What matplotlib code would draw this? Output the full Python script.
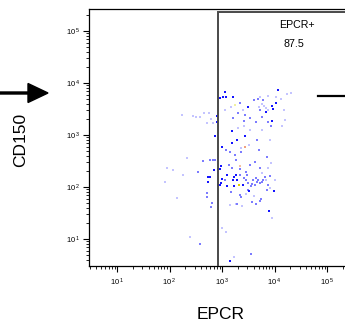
import math
import matplotlib
matplotlib.use("Agg")
from matplotlib import pyplot as plt
from matplotlib.patches import Rectangle, FancyArrow
from matplotlib.lines import Line2D
from matplotlib.ticker import LogLocator, FuncFormatter, NullFormatter

plt.rcParams['font.family'] = ['Liberation Sans', 'DejaVu Sans']
plt.rcParams['mathtext.fontset'] = 'custom'
plt.rcParams['mathtext.rm'] = 'Liberation Sans'

# events (EPCR, CD150), grouped by dot colour
dark_epcr = [11670, 1140, 916, 1045, 1191, 1620, 803, 803, 736, 1000, 1550, 1550, 1932,
             3127, 6887, 10690, 8955, 9355, 8955, 2742, 957, 916, 705, 541, 590, 541,
             1245, 1000, 957, 840, 916, 1245, 1849, 1694, 1620, 1932, 1694, 2512, 3266,
             9774, 7853, 1420]
dark_cd150 = [7330, 6710, 5150, 5380, 5380, 5380, 2320, 1780, 957, 588, 1190, 702, 802,
              3450, 2770, 4120, 3610, 3160, 1860, 957, 253, 222, 212, 156, 156, 125,
              170, 143, 119, 109, 109, 104, 170, 156, 136, 136, 104, 109, 83.8,
              83.8, 34.5, 3.8]

mid_epcr = [2203, 4853, 4070, 6040, 8571, 518, 518, 349, 381, 2203, 2993, 2865, 3127,
            3725, 3895, 4446, 4853, 5297, 5781, 6040, 6592, 4645, 4255, 3565, 2203, 2302,
            1932, 5534, 5297, 3725, 4446, 435, 590, 674, 736, 645, 617, 3565, 1620, 2018,
            2742, 3412, 4446, 5781, 1191, 1420, 1770, 2302, 5070, 7195, 1849, 1360, 3412,
            4255, 5297, 2203, 1550, 2865, 1140, 2625, 3127, 7195, 7517, 8204, 1483, 2625,
            5297, 7517, 4645]
mid_cd150 = [4120, 4920, 4710, 4710, 1490, 76.7, 64.3, 194, 8.0, 170, 170, 136, 119,
             114, 136, 149, 136, 119, 125, 136, 156, 125, 109, 104, 70.2, 64.3,
             47.1, 58.8, 53.8, 51.5, 47.1, 316, 330, 330, 330, 49.2, 41.2, 5.2, 2120, 2650,
             2430, 2120, 1780, 2220, 515, 471, 412, 471, 515, 378, 330, 265, 265,
             303, 232, 222, 232, 194, 136, 149, 87.5, 87.5, 109, 163, 80.2, 1860,
             3030, 1780, 802]

light_epcr = [20610, 17300, 7517, 10690, 5297, 5781, 6310, 6887, 7517, 5070, 281, 320, 381,
              454, 565, 518, 617, 674, 173, 215, 117, 82.1, 139, 89.6, 246, 1000, 1191,
              8955, 1849, 2405, 5781, 6887, 8204, 10230, 8571, 7517, 2865, 4070, 13300,
              15170, 2625, 3412, 13900, 15850, 1140, 1483, 2512, 2018, 3266, 1420, 181,
              1694, 2302, 8204, 5781]
light_cd150 = [6430, 6140, 5620, 5380, 5380, 3950, 3610, 3300, 3030, 3450, 2320, 2220, 2220,
               2650, 2650, 1700, 2030, 1700, 2430, 361, 212, 125, 61.4, 232, 10.9, 16.3, 13.6,
               25.3, 47.1, 43.1, 186, 136, 95.7, 136, 290, 232, 73.3, 67.1, 4920,
               3030, 1490, 1250, 1490, 1940, 3030, 3450, 3030, 1360, 643, 45.1, 170,
               4.5, 562, 802, 1250]

warm_epcr = [2742, 2109, 2203, 1770]
warm_cd150 = [588, 109, 253, 3780]
warm_colors = ['#f0a080', '#e0d000', '#f5c0a0', '#f0f0a0']

gate_x = 840
gate_top = 232000
gate_name = 'EPCR+'
gate_pct = '87.5'
decades = [10, 100, 1000, 10000, 100000]

fig = plt.figure(figsize=(3.45, 3.29), dpi=100)
ax = fig.add_axes([89 / 345, 63 / 329, 258 / 345, 257 / 329])

ax.scatter(light_epcr, light_cd150, s=1.1, marker='s', c='#c4c4ff', linewidths=0)
ax.scatter(mid_epcr, mid_cd150, s=1.1, marker='s', c='#7c7cff', linewidths=0)
ax.scatter(dark_epcr, dark_cd150, s=1.1, marker='s', c='#1414ff', linewidths=0)
ax.scatter(warm_epcr, warm_cd150, s=1.1, marker='s', c=warm_colors, linewidths=0)

ax.set_xscale('log')
ax.set_yscale('log')

# gate
ax.add_patch(Rectangle((gate_x, 1), 1e7, gate_top - 1, fill=False,
                       edgecolor='#4a4a4a', lw=1.4, zorder=3))
ax.text(26800, 130000, gate_name, ha='center', va='center', fontsize=7.7)
ax.text(23000, 56000, gate_pct, ha='center', va='center', fontsize=7.7)

fmt = FuncFormatter(lambda v, p: r'$\mathregular{10^{\,%d}}$' % round(math.log10(v)))
for axis in (ax.xaxis, ax.yaxis):
    axis.set_minor_locator(LogLocator(base=10, subs=range(2, 10), numticks=10))
    axis.set_major_formatter(fmt)
    axis.set_minor_formatter(NullFormatter())
ax.set_xticks(decades)
ax.set_yticks(decades)
ax.set_xlim(2.93, 240000)
ax.set_ylim(3.03, 265000)

ax.tick_params(which='major', direction='out', length=4.3, width=0.8, labelsize=5.5)
ax.tick_params(axis='x', which='major', pad=3.5)
ax.tick_params(axis='y', which='major', pad=2)
ax.tick_params(which='minor', direction='out', length=2.2, width=0.6)
for s in ax.spines.values():
    s.set_linewidth(0.9)

ax.set_xlabel('EPCR', fontsize=12.5)
ax.set_ylabel('CD150', fontsize=12.5)
ax.xaxis.set_label_coords(0.51, -0.19)
ax.xaxis.label.set_va('center')
ax.yaxis.set_label_coords(-0.264, 0.49)
ax.yaxis.label.set_va('center')

# arrow on the left and the line on the right edge
fig.patches.append(FancyArrow(0, 2.36, 0.48, 0, width=0.02, head_width=0.19,
                              head_length=0.2, length_includes_head=True,
                              color='black', transform=fig.dpi_scale_trans))
fig.lines.append(Line2D([3.18, 3.46], [2.325, 2.325], lw=1.6, color='black',
                        transform=fig.dpi_scale_trans))

fig.savefig('out.png', dpi=100)
